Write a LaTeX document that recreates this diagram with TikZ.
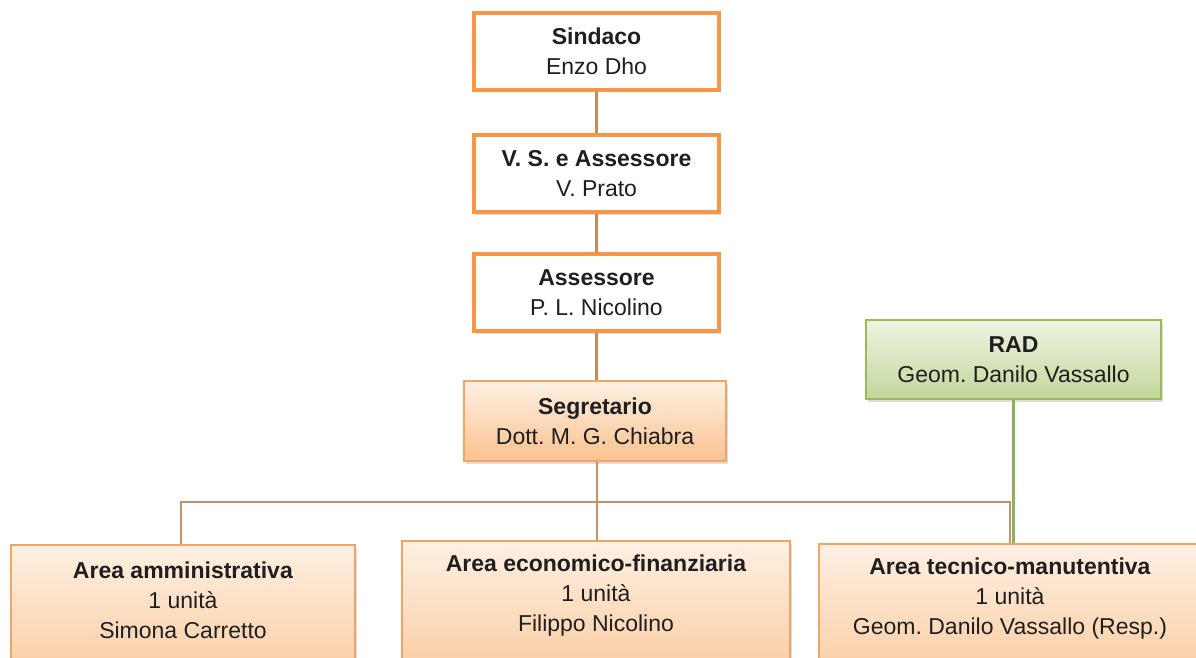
\documentclass[tikz,border=0pt]{standalone}
\usepackage{fontspec}
\setmainfont{Liberation Sans}
\usetikzlibrary{shadows,calc}
\frenchspacing
\definecolor{orB}{HTML}{F79646}
\definecolor{orLine}{HTML}{C98A57}
\definecolor{busLine}{HTML}{C4916A}
\definecolor{orTop}{HTML}{FEF0E3}
\definecolor{orBot}{HTML}{F9C28F}
\definecolor{orEdge}{HTML}{EFA469}
\definecolor{grTop}{HTML}{EEF4E2}
\definecolor{grBot}{HTML}{C3D69B}
\definecolor{grB}{HTML}{9BBB59}
\definecolor{grLine}{HTML}{8DB255}
\begin{document}
\frenchspacing
\begin{tikzpicture}[x=1pt,y=-1pt,
  every node/.style={font=\fontsize{23}{30}\selectfont\frenchspacing, text=black!88, align=center},
  shad/.style={drop shadow={shadow xshift=2pt, shadow yshift=-2.5pt, opacity=0.22, fill=black!60}},
  topbox/.style={draw=orB, line width=3.3pt, fill=white, inner sep=0pt, shad},
  segbox/.style={draw=orEdge, line width=1.3pt, top color=orTop, bottom color=orBot, inner sep=0pt, shad},
  radbox/.style={draw=grB, line width=1.3pt, top color=grTop, bottom color=grBot, inner sep=0pt, shad},
  areabox/.style={draw=orEdge, line width=1.3pt, top color=orTop, bottom color=orBot, inner sep=0pt, shad},
  txt/.style={inner sep=0pt},
  conn/.style={draw=orLine, line width=3.5pt},
  bus/.style={draw=busLine, line width=1.8pt},
  gconn/.style={draw=grLine, line width=3.5pt}]
\useasboundingbox (0,0) rectangle (1196,658);
\clip (0,0) rectangle (1196,658);

% boxes
\node[topbox, minimum width=245pt, minimum height=77pt] (sind) at (596.5,51.5) {\textbf{Sindaco}\\Enzo Dho};
\node[topbox, minimum width=245pt, minimum height=77pt] (vs) at (596.5,173.5) {\textbf{V. S. e Assessore}\\V. Prato};
\node[topbox, minimum width=245pt, minimum height=77pt] (ass) at (596.5,292.5) {\textbf{Assessore}\\P. L. Nicolino};
\node[segbox, minimum width=262pt, minimum height=80pt] (seg) at (595,421) {\textbf{Segretario}\\Dott. M. G. Chiabra};
\node[radbox, minimum width=295pt, minimum height=79pt] (rad) at (1013.5,359.5) {\textbf{RAD}\\Geom. Danilo Vassallo};

\node[areabox, minimum width=344pt, minimum height=170pt] (amm) at (183,630) {};
\node[areabox, minimum width=388pt, minimum height=170pt] (eco) at (596,626) {};
\node[areabox, minimum width=381pt, minimum height=170pt] (tec) at (1009.5,629) {};
\node[txt] (ammT) at (183,600) {\textbf{Area amministrativa}\\1 unità\\Simona Carretto};
\node[txt] (ecoT) at (596,596) {\textbf{Area economico-finanziaria}\\1 unità\\Filippo Nicolino};
\node[txt] (tecT) at (1010,599) {\textbf{Area tecnico-manutentiva}\\1 unità\\Geom. Danilo Vassallo (Resp.)};

\coordinate (busR) at (1010,502);

% connectors
\draw[conn] (sind.south) -- (vs.north);
\draw[conn] (vs.south) -- (ass.north);
\draw[conn] (ass.south) -- (ass.south |- seg.north);
\draw[bus] (597,0 |- seg.south) -- (597,0 |- eco.north);
\draw[bus] (181,0 |- amm.north) |- (busR) -- (busR |- tec.north);
\draw[gconn] (rad.south) -- (rad.south |- tec.north);
\end{tikzpicture}
\end{document}
